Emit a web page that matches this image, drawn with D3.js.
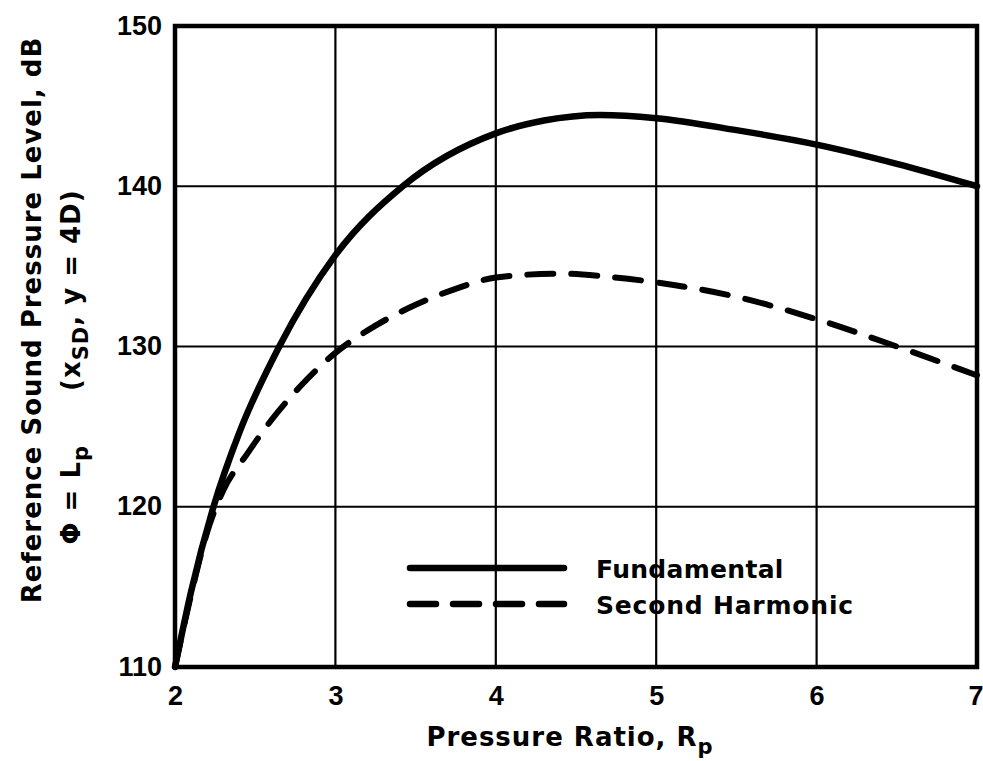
<!DOCTYPE html>
<html>
<head>
<meta charset="utf-8">
<script src="https://cdn.jsdelivr.net/npm/d3@7/dist/d3.min.js"></script>
<style>
  html, body { margin: 0; padding: 0; background: #fff; }
  svg text { font-family: "DejaVu Sans", sans-serif; font-weight: bold; fill: #000; }
</style>
</head>
<body>
<svg id="chart" width="983" height="761"></svg>
<script>
// ---- data ----
const xTicks = [2, 3, 4, 5, 6, 7];
const yTicks = [110, 120, 130, 140, 150];

const fundamentalX = [2.0, 2.1, 2.24, 2.4, 2.65, 3.0, 3.42, 4.0, 4.3, 4.65, 5.0, 5.5, 6.0, 6.5, 7.0];
const fundamentalY = [110, 114.7, 120, 124.6, 130, 135.7, 140, 143.3, 144.1, 144.45, 144.25, 143.5, 142.6, 141.4, 140.0];

const harmonicX = [2.0, 2.1, 2.2, 2.3, 2.45, 2.6, 2.78, 3.0, 3.25, 3.5, 3.75, 4.0, 4.4, 4.7, 5.0, 5.5, 6.0, 6.5, 7.0];
const harmonicY = [110, 114.5, 118.4, 121.0, 123.3, 125.4, 127.5, 129.6, 131.3, 132.6, 133.6, 134.3, 134.55, 134.35, 134.0, 133.1, 131.7, 130.0, 128.2];

const legendLabels = ["Fundamental", "Second Harmonic"];

// ---- layout ----
const svg = d3.select("#chart");
const mLeft = 175, mRight = 977, mTop = 26, mBottom = 667;

const x = d3.scaleLinear().domain([2, 7]).range([mLeft, mRight]);
const y = d3.scaleLinear().domain([110, 150]).range([mBottom, mTop]);

// grid
const g = svg.append("g");
g.selectAll("line.vg").data(xTicks.slice(1, -1)).enter().append("line")
  .attr("x1", d => x(d)).attr("x2", d => x(d))
  .attr("y1", mTop).attr("y2", mBottom)
  .attr("stroke", "#000").attr("stroke-width", 2.2);
g.selectAll("line.hg").data(yTicks.slice(1, -1)).enter().append("line")
  .attr("x1", mLeft).attr("x2", mRight)
  .attr("y1", d => y(d)).attr("y2", d => y(d))
  .attr("stroke", "#000").attr("stroke-width", 2.2);

// frame
g.append("rect").attr("x", mLeft).attr("y", mTop)
  .attr("width", mRight - mLeft).attr("height", mBottom - mTop)
  .attr("fill", "none").attr("stroke", "#000").attr("stroke-width", 4.5);

// axes labels via d3 axes
const xAxis = d3.axisBottom(x).tickValues(xTicks).tickSize(0).tickPadding(33).tickFormat(d3.format("d"));
const xa = svg.append("g").attr("transform", `translate(0,${mBottom})`).call(xAxis);
xa.select(".domain").remove();
xa.selectAll("text").style("font-size", "27px").style("font-family", "'Liberation Sans', sans-serif").style("font-weight", "bold").attr("dy", "0.2em");
xa.selectAll(".tick").filter(d => d === 7).select("text").attr("text-anchor", "end").attr("dx", 6);

const yAxis = d3.axisLeft(y).tickValues(yTicks).tickSize(0).tickPadding(13).tickFormat(d3.format("d"));
const ya = svg.append("g").attr("transform", `translate(${mLeft},0)`).call(yAxis);
ya.select(".domain").remove();
ya.selectAll("text").style("font-size", "27px").style("font-family", "'Liberation Sans', sans-serif").style("font-weight", "bold").attr("dy", "0.3em");

// lines
const line = d3.line().x(d => x(d[0])).y(d => y(d[1])).curve(d3.curveMonotoneX);
const fundData = fundamentalX.map((v, i) => [v, fundamentalY[i]]);
const harmData = harmonicX.map((v, i) => [v, harmonicY[i]]);

svg.append("path").datum(harmData).attr("d", line)
  .attr("fill", "none").attr("stroke", "#000").attr("stroke-width", 6)
  .attr("stroke-linecap", "round").attr("stroke-dasharray", "26,18");
svg.append("path").datum(fundData).attr("d", line)
  .attr("fill", "none").attr("stroke", "#000").attr("stroke-width", 6.5)
  .attr("stroke-linecap", "round");

// legend
const lg = svg.append("g");
lg.append("line").attr("x1", 410).attr("x2", 564).attr("y1", 568).attr("y2", 568)
  .attr("stroke", "#000").attr("stroke-width", 6.5).attr("stroke-linecap", "round");
lg.append("line").attr("x1", 410).attr("x2", 564).attr("y1", 604).attr("y2", 604)
  .attr("stroke", "#000").attr("stroke-width", 6.5).attr("stroke-linecap", "round")
  .attr("stroke-dasharray", "26,17");
lg.append("text").attr("x", 596).attr("y", 578).text(legendLabels[0])
  .style("font-size", "25px").style("letter-spacing", "0.3px");
lg.append("text").attr("x", 596).attr("y", 614).text(legendLabels[1])
  .style("font-size", "25px").style("letter-spacing", "0.8px");

// x axis title
const xt = svg.append("text").attr("x", 570).attr("y", 746).attr("text-anchor", "middle")
  .style("font-size", "26px").style("letter-spacing", "1px");
xt.append("tspan").text("Pressure Ratio, R");
xt.append("tspan").attr("dy", 8).style("font-size", "21px").text("p");

// y axis titles (rotated)
svg.append("text").attr("transform", "translate(41,320) rotate(-90)")
  .attr("text-anchor", "middle").style("font-size", "26px").style("letter-spacing", "1px")
  .text("Reference Sound Pressure Level, dB");

const yt2 = svg.append("text").attr("transform", "translate(80,367) rotate(-90)")
  .attr("text-anchor", "middle").style("font-size", "26px").style("letter-spacing", "1px")
  .attr("xml:space", "preserve");
yt2.append("tspan").text("\u03A6 = L");
yt2.append("tspan").attr("dy", 8).style("font-size", "21px").text("p");
yt2.append("tspan").attr("dy", -8).text("\u2003\u2003(x");
yt2.append("tspan").attr("dy", 8).style("font-size", "21px").text("SD");
yt2.append("tspan").attr("dy", -8).text(", y = 4D)");
</script>
</body>
</html>
